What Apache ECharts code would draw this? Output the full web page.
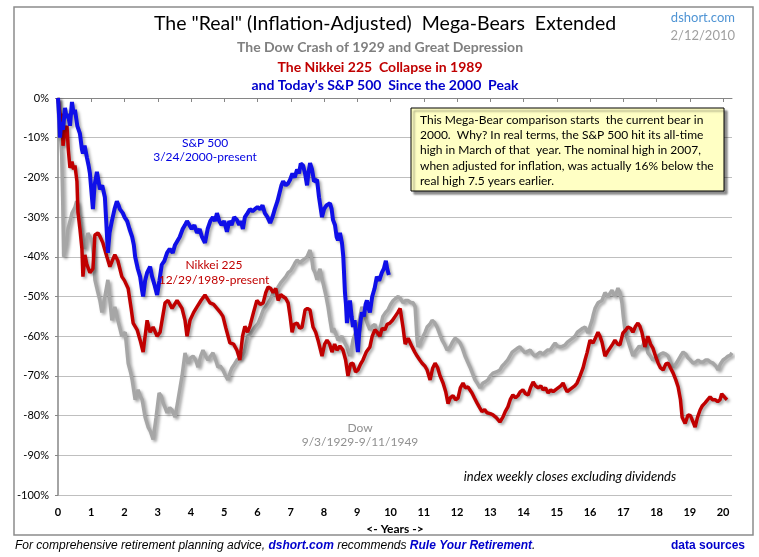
<!DOCTYPE html>
<html><head><meta charset="utf-8">
<script src="https://cdn.jsdelivr.net/npm/echarts@6/dist/echarts.min.js"></script>
<style>html,body{margin:0;padding:0;background:#fff}#c{width:759px;height:557px}</style>
</head><body><div id="c"></div>
<script>
const xTicks = [0,1,2,3,4,5,6,7,8,9,10,11,12,13,14,15,16,17,18,19,20];
const yTicks = [0,-10,-20,-30,-40,-50,-60,-70,-80,-90,-100];

// [years since peak, real % change]
const spData = [
[0,0],[0.03,-4],[0.06,-10],[0.1,-6],[0.15,-8],[0.21,-2.5],[0.26,-5],[0.3,-4],[0.36,-7],[0.42,-1],[0.47,-4],[0.51,-3],
[0.58,-7],[0.66,-9],[0.72,-13],[0.75,-14],[0.8,-12],[0.87,-15],[0.92,-17],[0.96,-19],[1.0,-23],[1.05,-28],[1.1,-22],
[1.17,-18.6],[1.22,-21],[1.26,-23],[1.33,-22],[1.41,-25],[1.45,-31],[1.5,-39],[1.55,-34],[1.62,-31],[1.7,-28],[1.77,-26],
[1.82,-27],[1.86,-28],[1.95,-29],[2.0,-30],[2.08,-31],[2.15,-33],[2.23,-35],[2.28,-37],[2.32,-40],[2.4,-43],[2.47,-45],
[2.52,-48],[2.56,-50],[2.62,-46],[2.68,-44],[2.77,-42.5],[2.83,-45],[2.9,-47],[2.98,-49.6],[3.05,-46],[3.12,-42],[3.2,-41],
[3.28,-39],[3.36,-38],[3.45,-39],[3.52,-37],[3.58,-37.5],[3.66,-35],[3.75,-33],[3.82,-32],[3.88,-31],[3.95,-32],[4.02,-33],
[4.1,-32],[4.18,-34],[4.26,-33],[4.33,-35],[4.42,-36.5],[4.5,-33],[4.58,-31],[4.66,-30],[4.72,-31],[4.78,-29],[4.85,-31],
[4.92,-32],[5.0,-31],[5.08,-33.7],[5.15,-31],[5.22,-32],[5.3,-30],[5.38,-30.7],[5.45,-32],[5.5,-31],[5.56,-33],[5.62,-30],
[5.7,-29],[5.77,-28],[5.85,-28.5],[5.92,-28],[6.0,-27.5],[6.08,-28],[6.15,-27],[6.22,-29],[6.3,-30],[6.38,-31.5],[6.45,-30],
[6.52,-28],[6.6,-26],[6.66,-24],[6.72,-22],[6.77,-21],[6.85,-22],[6.92,-21.5],[6.98,-20.6],[7.05,-19],[7.12,-20],[7.19,-18],
[7.25,-19],[7.3,-16.5],[7.37,-17],[7.43,-19],[7.49,-22],[7.53,-19],[7.58,-16.4],[7.64,-18],[7.7,-21],[7.79,-20.6],[7.85,-25],
[7.94,-30],[8.0,-28],[8.08,-27],[8.18,-26.5],[8.23,-28],[8.27,-30.7],[8.33,-32],[8.38,-35],[8.42,-35.8],[8.48,-34],[8.54,-36.5],
[8.58,-40],[8.63,-49],[8.66,-52],[8.69,-56.7],[8.74,-53],[8.78,-51],[8.83,-55],[8.87,-57.7],[8.92,-56],[8.97,-60],[9.02,-64],
[9.06,-59],[9.1,-56],[9.14,-54],[9.2,-55],[9.25,-52],[9.29,-51],[9.34,-53],[9.38,-54],[9.45,-50],[9.52,-48],[9.59,-45],
[9.66,-46],[9.74,-44],[9.8,-43],[9.86,-41],[9.9,-43],[9.95,-44.6]
];

const nikkeiData = [
[0,0],[0.04,-3],[0.08,-5],[0.12,-4],[0.15,-12],[0.2,-9],[0.27,-7],[0.31,-13],[0.36,-17.6],[0.42,-16],[0.47,-18],[0.51,-17],
[0.57,-21],[0.6,-28.7],[0.66,-33],[0.72,-38],[0.75,-45],[0.81,-39.5],[0.87,-42],[0.96,-44],[1.05,-43],[1.11,-34.5],[1.2,-34],
[1.27,-35],[1.35,-36.5],[1.47,-40],[1.56,-42.5],[1.63,-41],[1.71,-39.5],[1.8,-41],[1.92,-45],[2.0,-46],[2.11,-48],[2.2,-53],
[2.26,-56.7],[2.38,-58.4],[2.47,-61],[2.56,-64],[2.68,-56],[2.77,-59],[2.86,-57.7],[2.98,-60],[3.07,-59],[3.15,-55],[3.22,-51.6],
[3.31,-51],[3.43,-53],[3.58,-51],[3.73,-53],[3.82,-56],[3.88,-60],[3.97,-56],[4.08,-54],[4.18,-52.6],[4.3,-51],[4.42,-49.6],
[4.57,-51.6],[4.68,-52],[4.78,-53],[4.88,-54],[4.96,-55],[5.05,-58],[5.17,-61.7],[5.28,-62],[5.38,-63.5],[5.47,-66],[5.55,-60],
[5.62,-57.5],[5.7,-59],[5.77,-57.5],[5.88,-54],[5.98,-51],[6.08,-52],[6.17,-51.6],[6.25,-49],[6.32,-47.6],[6.4,-48],[6.47,-49],
[6.55,-48],[6.62,-51],[6.7,-49.5],[6.77,-50],[6.85,-50.5],[6.92,-51.6],[6.98,-55],[7.04,-59],[7.1,-57],[7.19,-56.7],[7.27,-58],
[7.34,-57.7],[7.43,-53.4],[7.5,-53],[7.58,-53.4],[7.67,-57.7],[7.75,-59],[7.82,-61],[7.94,-65],[8.02,-62],[8.09,-61],[8.17,-62],
[8.24,-64],[8.32,-62],[8.39,-63.5],[8.48,-62.5],[8.57,-63.5],[8.65,-66],[8.72,-70],[8.8,-67],[8.87,-66.8],[8.95,-69],[9.02,-68.5],
[9.1,-67],[9.17,-66],[9.27,-64],[9.38,-62.7],[9.45,-60],[9.53,-58.4],[9.6,-59],[9.68,-60],[9.75,-58],[9.83,-58.4],[9.9,-57],
[9.98,-56.7],[10.06,-56],[10.14,-55],[10.22,-54],[10.29,-53],[10.38,-58],[10.44,-62],[10.53,-60.5],[10.65,-62.7],[10.73,-64],
[10.8,-65],[10.88,-66],[10.95,-66.8],[11.03,-67.5],[11.1,-68.5],[11.19,-71],[11.27,-68],[11.34,-66.8],[11.42,-68],[11.49,-70],
[11.58,-71.8],[11.66,-74],[11.73,-77],[11.8,-75.5],[11.88,-75],[11.96,-76],[12.03,-75.6],[12.1,-73],[12.18,-71.8],[12.25,-73],
[12.33,-72.8],[12.45,-74.3],[12.52,-75.5],[12.6,-76.8],[12.68,-78],[12.75,-79],[12.83,-78.5],[12.9,-79.3],[13.0,-79.5],
[13.08,-79.8],[13.18,-80.5],[13.29,-81.6],[13.38,-80.4],[13.45,-79],[13.53,-77.8],[13.6,-76],[13.68,-74.8],[13.76,-75.5],
[13.83,-75],[13.9,-74],[13.98,-73.5],[14.06,-74.5],[14.14,-74.8],[14.21,-73],[14.29,-71.5],[14.36,-72.5],[14.44,-73],
[14.52,-72.5],[14.59,-73.5],[14.66,-73],[14.74,-74.3],[14.82,-73.5],[14.89,-74],[14.96,-73.5],[15.04,-73],[15.12,-72.5],
[15.19,-71.8],[15.25,-73],[15.31,-74],[15.38,-73.5],[15.46,-73],[15.54,-72.5],[15.61,-71.8],[15.7,-70],[15.79,-68],[15.85,-66],
[15.91,-64.2],[16.0,-61],[16.09,-61.7],[16.16,-60.5],[16.24,-59],[16.3,-60],[16.36,-61.5],[16.45,-65],[16.52,-64],[16.6,-63],
[16.68,-62],[16.75,-61],[16.83,-62],[16.9,-62.2],[16.99,-59.2],[17.07,-58.5],[17.14,-57.7],[17.22,-58],[17.29,-59],[17.37,-57.5],
[17.44,-56.7],[17.5,-57.5],[17.56,-59],[17.65,-62.7],[17.74,-60],[17.82,-62],[17.89,-63],[17.97,-65],[18.05,-66.8],[18.12,-68],
[18.2,-68.5],[18.28,-67],[18.35,-66.8],[18.42,-68],[18.5,-69.3],[18.58,-71],[18.65,-72.8],[18.72,-76],[18.77,-80.4],[18.86,-82],
[18.95,-79.8],[19.02,-80],[19.07,-81],[19.16,-82.9],[19.23,-80.5],[19.31,-78.6],[19.38,-77.5],[19.46,-76.8],[19.54,-76],
[19.61,-75.3],[19.68,-76],[19.76,-76],[19.84,-76.5],[19.91,-76],[19.96,-74.5],[20.0,-74],[20.06,-75.5],[20.12,-76]
];

const dowData = [
[0,0],[0.02,-5],[0.04,-10],[0.07,-9],[0.11,-14],[0.14,-25],[0.17,-40],[0.21,-39.5],[0.25,-36.5],[0.3,-33],[0.36,-31],
[0.42,-29],[0.51,-27.5],[0.56,-26],[0.6,-27],[0.66,-30],[0.72,-34],[0.81,-38],[0.9,-34],[0.96,-35],[1.02,-35.8],[1.07,-40],
[1.11,-45.8],[1.2,-49],[1.26,-51],[1.32,-54],[1.41,-50],[1.5,-45.8],[1.56,-51],[1.62,-56],[1.71,-52.6],[1.8,-56],[1.86,-58],
[1.92,-60],[2.02,-59],[2.11,-66.8],[2.18,-69],[2.23,-71],[2.32,-76],[2.41,-73.5],[2.47,-75],[2.53,-76],[2.62,-80.4],[2.71,-82.9],
[2.78,-84],[2.86,-86],[2.95,-80.4],[3.04,-74.3],[3.1,-75],[3.16,-76.8],[3.22,-78],[3.28,-79.3],[3.36,-78],[3.43,-78.6],
[3.52,-80.4],[3.61,-76],[3.67,-73],[3.73,-70],[3.82,-64.2],[3.91,-66.8],[3.98,-65.5],[4.06,-65],[4.14,-66],[4.21,-67.8],
[4.29,-65],[4.36,-63.5],[4.44,-65],[4.51,-66],[4.59,-65],[4.66,-64.2],[4.74,-66],[4.81,-67.8],[4.88,-67.5],[4.96,-68.5],
[5.04,-70],[5.11,-71],[5.18,-69],[5.23,-68],[5.31,-67],[5.38,-66],[5.46,-65.5],[5.53,-65],[5.6,-64],[5.71,-60],[5.78,-59.5],
[5.86,-58.4],[5.94,-57.5],[6.02,-56.7],[6.1,-55],[6.17,-53.4],[6.25,-52.5],[6.32,-51.6],[6.4,-50.5],[6.47,-49],[6.55,-48.5],
[6.62,-47.6],[6.7,-46.5],[6.77,-45.8],[6.85,-45],[6.92,-44],[7.0,-43.5],[7.07,-42.5],[7.13,-41.5],[7.19,-40.8],[7.27,-41.5],
[7.34,-41],[7.42,-40.5],[7.49,-40],[7.54,-39],[7.58,-38.3],[7.63,-40.5],[7.67,-43],[7.73,-44],[7.79,-45.8],[7.84,-44],[7.88,-43],
[7.92,-45],[7.97,-46.6],[8.05,-49.5],[8.12,-52.6],[8.18,-56],[8.24,-59],[8.29,-58],[8.33,-58.4],[8.38,-60],[8.42,-61],
[8.48,-60.5],[8.54,-60],[8.61,-61.5],[8.69,-62.7],[8.74,-64],[8.78,-65],[8.83,-63],[8.87,-61],[8.95,-59],[9.02,-57.7],
[9.08,-55],[9.14,-52.6],[9.19,-54],[9.23,-55],[9.31,-57],[9.38,-58.4],[9.45,-57.5],[9.53,-57],[9.58,-58.5],[9.62,-60],
[9.7,-57.5],[9.77,-55],[9.85,-54],[9.92,-53.4],[10.0,-52],[10.08,-51],[10.15,-50.5],[10.23,-50],[10.3,-50.5],[10.38,-51.6],
[10.45,-51],[10.53,-51],[10.6,-51.5],[10.68,-51.6],[10.74,-52.6],[10.8,-61],[10.83,-62.7],[10.9,-61.5],[10.98,-60],[11.04,-59],
[11.1,-57.7],[11.18,-57],[11.25,-56],[11.32,-56.5],[11.4,-57.7],[11.48,-59.5],[11.55,-61],[11.62,-62],[11.7,-63.5],[11.79,-62.7],
[11.86,-61.5],[11.94,-60.5],[12.02,-61],[12.09,-61.7],[12.16,-63],[12.24,-65],[12.32,-66.5],[12.39,-67.8],[12.47,-69.5],
[12.54,-71],[12.62,-72],[12.69,-73],[12.78,-71.8],[12.85,-71.5],[12.93,-71],[13.0,-70],[13.08,-69.3],[13.18,-69],[13.29,-68.5],
[13.36,-67.5],[13.44,-66.8],[13.52,-66],[13.59,-65],[13.66,-64],[13.74,-63.5],[13.82,-63],[13.89,-62.7],[13.97,-63.5],
[14.05,-64.2],[14.12,-63.8],[14.2,-63.5],[14.28,-64.5],[14.35,-65],[14.42,-64.5],[14.5,-64],[14.58,-64.5],[14.65,-64],
[14.72,-63.5],[14.8,-63.5],[14.88,-62.5],[14.95,-61.7],[15.02,-62.5],[15.1,-62.7],[15.18,-62.5],[15.25,-62.2],[15.32,-61.5],
[15.4,-61],[15.48,-60.5],[15.55,-60],[15.62,-59],[15.7,-58.5],[15.78,-58],[15.85,-57.7],[15.94,-59.2],[16.0,-57.5],[16.06,-56],
[16.1,-54.5],[16.15,-53],[16.24,-51.6],[16.3,-51.5],[16.36,-51],[16.45,-49],[16.54,-50],[16.6,-49.5],[16.66,-48.4],[16.75,-50],
[16.84,-47.9],[16.9,-49],[16.96,-51.6],[17.0,-55],[17.05,-58.4],[17.12,-60.5],[17.2,-62.7],[17.29,-65],[17.35,-64],[17.41,-63.5],
[17.48,-62.5],[17.56,-63],[17.65,-61],[17.74,-64.2],[17.82,-65],[17.89,-66],[17.97,-65.5],[18.05,-65],[18.12,-64.5],[18.2,-64.2],
[18.28,-64.5],[18.35,-65],[18.42,-66.5],[18.5,-67.8],[18.58,-67],[18.65,-66],[18.72,-65],[18.8,-64],[18.88,-64.5],[18.95,-65.5],
[19.02,-66],[19.1,-66.8],[19.18,-66.5],[19.25,-66],[19.32,-66.5],[19.4,-66.5],[19.48,-66],[19.55,-66],[19.62,-66.5],[19.7,-66.8],
[19.78,-67.5],[19.85,-68.5],[19.92,-67],[20.0,-66],[20.08,-65.5],[20.15,-65],[20.22,-64.8],[20.27,-64.2]
];

const seriesNames = ['Dow', 'Nikkei 225', 'S&P 500'];
const seriesColors = ['#a6a6a6', '#c00000', '#0f0fe8'];

const chart = echarts.init(document.getElementById('c'), null, {renderer: 'canvas'});
const F = 'Lato, "Open Sans", sans-serif';
const lineShadow = {shadowColor: 'rgba(0,0,0,0.35)', shadowBlur: 3, shadowOffsetX: 2, shadowOffsetY: 2};

const option = {
  backgroundColor: '#fff',
  animation: false,
  grid: {left: 58, right: 27, top: 98, bottom: 62, containLabel: false},
  xAxis: {
    type: 'value', min: 0, max: 20.27,
    axisLine: {show: true, lineStyle: {color: '#868686', width: 1}},
    axisTick: {show: true, length: 4, lineStyle: {color: '#868686'}, customValues: xTicks},
    axisLabel: {customValues: xTicks, color: '#000', fontFamily: F, fontWeight: 'bold', fontSize: 11, margin: 12},
    splitLine: {show: false},
    name: '<- Years ->', nameLocation: 'middle', nameGap: 26,
    nameTextStyle: {color: '#000', fontFamily: F, fontWeight: 'bold', fontSize: 12}
  },
  yAxis: {
    type: 'value', min: -100, max: 0, interval: 10,
    axisLine: {show: true, lineStyle: {color: '#868686', width: 1.5}},
    axisTick: {show: true, length: 3, lineStyle: {color: '#868686'}},
    axisLabel: {color: '#000', fontFamily: F, fontSize: 11, margin: 9, formatter: v => v + '%'},
    splitLine: {show: true, lineStyle: {color: '#bfbfbf', width: 1}}
  },
  series: [
    {name: seriesNames[0], type: 'line', data: dowData, showSymbol: false, z: 2,
     lineStyle: Object.assign({color: seriesColors[0], width: 3.5}, lineShadow)},
    {name: seriesNames[1], type: 'line', data: nikkeiData, showSymbol: false, z: 3,
     lineStyle: Object.assign({color: seriesColors[1], width: 3.5}, lineShadow)},
    {name: seriesNames[2], type: 'line', data: spData, showSymbol: false, z: 4,
     lineStyle: Object.assign({color: seriesColors[2], width: 4}, lineShadow)}
  ],
  graphic: [
    {type: 'rect', shape: {x: 14, y: 7, width: 739, height: 528}, silent: true, z: -10,
     style: {fill: 'none', stroke: '#8c8c8c', lineWidth: 1.5}},
    {type: 'text', x: 385, y: 24, style: {text: 'The "Real" (Inflation-Adjusted)  Mega-Bears  Extended', font: '19.5px ' + F, fill: '#000', textAlign: 'center', textVerticalAlign: 'middle'}},
    {type: 'text', x: 380, y: 47, style: {text: 'The Dow Crash of 1929 and Great Depression', font: 'bold 14px ' + F, fill: '#7f7f7f', textAlign: 'center', textVerticalAlign: 'middle'}},
    {type: 'text', x: 380, y: 67, style: {text: 'The Nikkei 225  Collapse in 1989', font: 'bold 14px ' + F, fill: '#c00000', textAlign: 'center', textVerticalAlign: 'middle'}},
    {type: 'text', x: 385, y: 85, style: {text: "and Today's S&P 500  Since the 2000  Peak", font: 'bold 14px ' + F, fill: '#0000cc', textAlign: 'center', textVerticalAlign: 'middle'}},
    {type: 'text', x: 735, y: 18, style: {text: 'dshort.com', font: '13px ' + F, fill: '#4f94d4', textAlign: 'right', textVerticalAlign: 'middle'}},
    {type: 'text', x: 735, y: 36, style: {text: '2/12/2010', font: '13px ' + F, fill: '#a0a0a0', textAlign: 'right', textVerticalAlign: 'middle'}},
    {type: 'rect', shape: {x: 411, y: 108, width: 313, height: 83}, z: 50,
     style: {fill: '#ffffc4', stroke: '#000', lineWidth: 1, shadowColor: 'rgba(0,0,0,0.45)', shadowBlur: 2, shadowOffsetX: 3, shadowOffsetY: 3}},
    {type: 'text', x: 420, y: 112, z: 51, style: {
      text: 'This Mega-Bear comparison starts  the current bear in\n2000.  Why? In real terms, the S&P 500 hit its all-time\nhigh in March of that  year. The nominal high in 2007,\nwhen adjusted for inflation, was actually 16% below the\nreal high 7.5 years earlier.',
      font: '12px ' + F, fill: '#000', lineHeight: 15.4, textAlign: 'left', textVerticalAlign: 'top'}},
    {type: 'text', x: 205, y: 150, z: 60, style: {text: 'S&P 500\n3/24/2000-present', font: '12px ' + F, fill: '#0000e0', lineHeight: 14.5, textAlign: 'center', textVerticalAlign: 'middle'}},
    {type: 'text', x: 214, y: 273, z: 60, style: {text: 'Nikkei 225\n12/29/1989-present', font: '12px ' + F, fill: '#c00000', lineHeight: 15, textAlign: 'center', textVerticalAlign: 'middle'}},
    {type: 'text', x: 360, y: 435, z: 60, style: {text: 'Dow\n9/3/1929-9/11/1949', font: '12px ' + F, fill: '#909090', lineHeight: 14.5, textAlign: 'center', textVerticalAlign: 'middle'}},
    {type: 'text', x: 570, y: 477, z: 60, style: {text: 'index weekly closes excluding dividends', font: 'italic 13px ' + F, fill: '#000', textAlign: 'center', textVerticalAlign: 'middle'}},
    {type: 'text', x: 15, y: 546, style: {
      text: '{n|For comprehensive retirement planning advice, }{b|dshort.com}{n| recommends }{b|Rule Your Retirement}{n|.}',
      textVerticalAlign: 'middle',
      rich: {n: {font: 'italic 12px "Liberation Sans", Arial, sans-serif', fill: '#000'},
             b: {font: 'italic bold 12px "Liberation Sans", Arial, sans-serif', fill: '#0000cc'}}}},
    {type: 'text', x: 745, y: 546, style: {text: 'data sources', font: 'bold 12px "Liberation Sans", Arial, sans-serif', fill: '#0000cc', textAlign: 'right', textVerticalAlign: 'middle'}}
  ]
};
chart.setOption(option);
</script>
</body></html>
